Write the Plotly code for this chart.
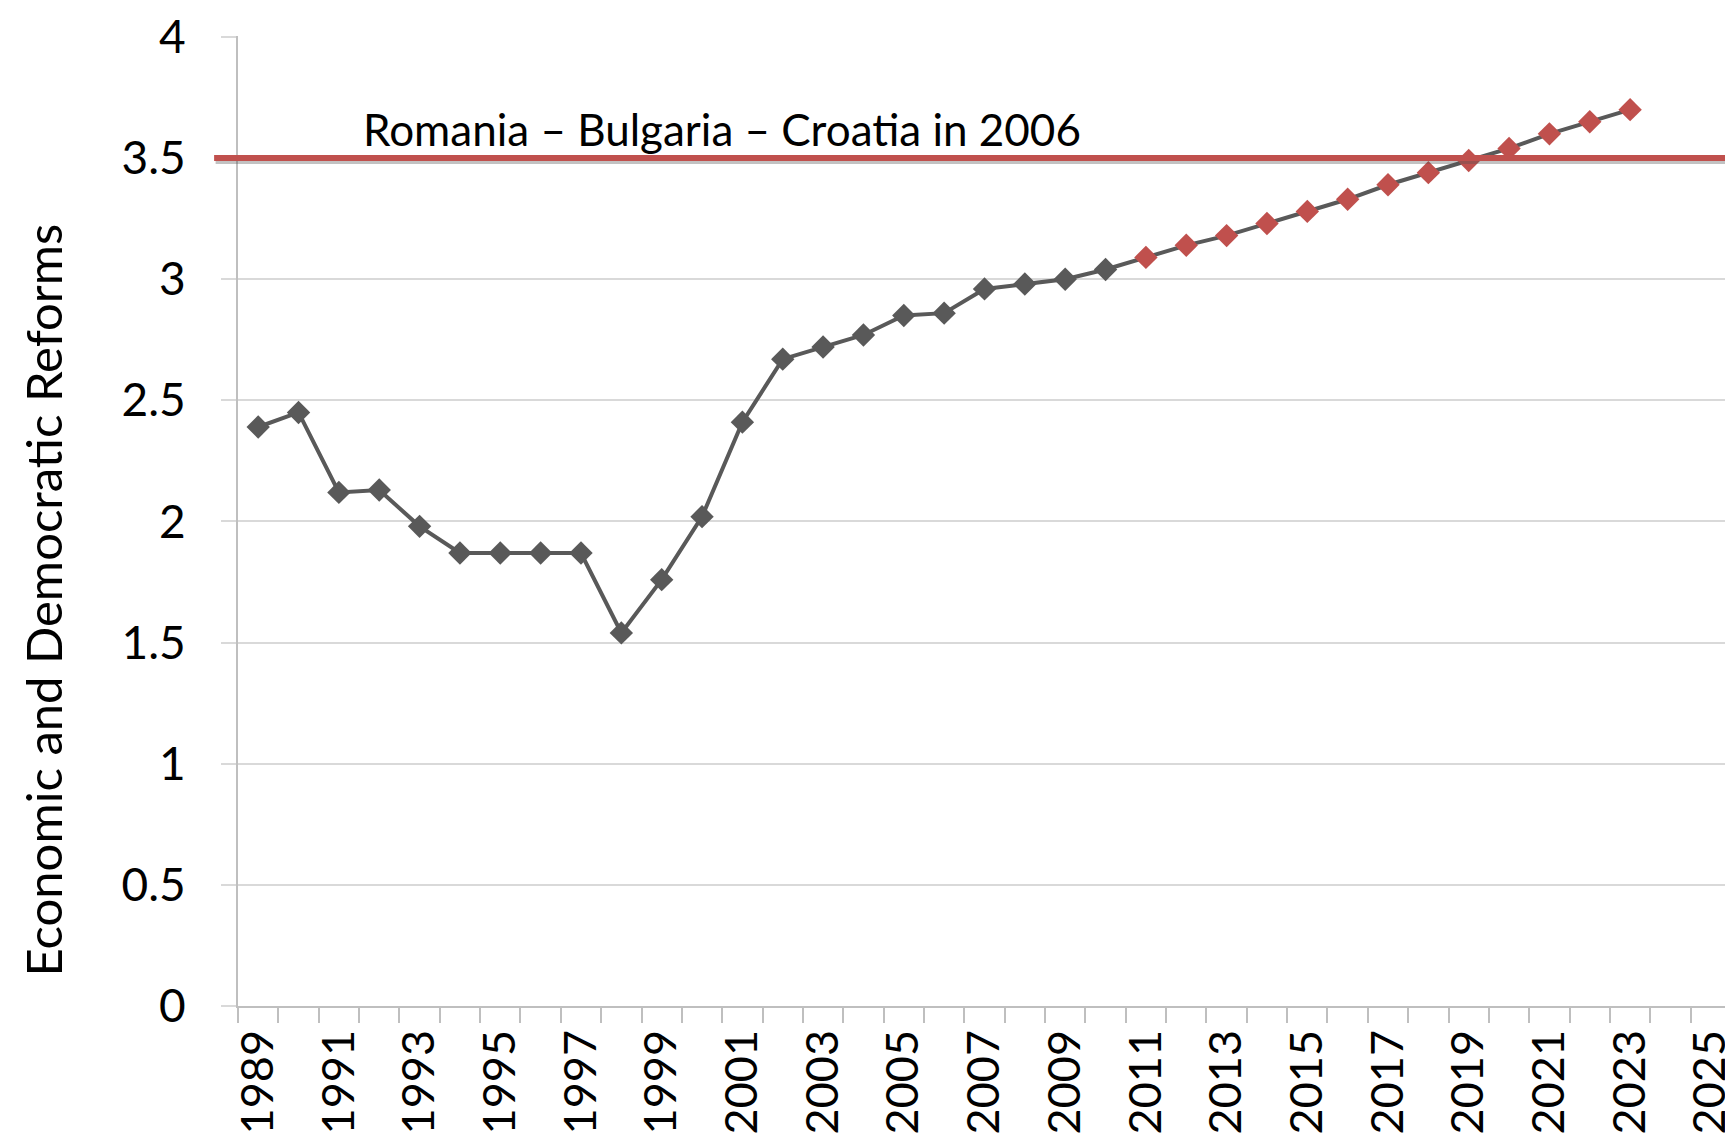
import plotly.graph_objects as go

years = list(range(1989, 2024))
values = [2.39, 2.45, 2.12, 2.13, 1.98, 1.87, 1.87, 1.87, 1.87, 1.54,
          1.76, 2.02, 2.41, 2.67, 2.72, 2.77, 2.85, 2.86, 2.96, 2.98,
          3.00, 3.04, 3.09, 3.14, 3.18, 3.23, 3.28, 3.33, 3.39, 3.44,
          3.49, 3.54, 3.60, 3.65, 3.70]
projection_start = 2011
x_tick_years = list(range(1989, 2026, 2))
x_tick_labels = [str(y) for y in x_tick_years]
y_tick_vals = [0, 0.5, 1, 1.5, 2, 2.5, 3, 3.5, 4]
y_tick_labels = ["0", "0.5", "1", "1.5", "2", "2.5", "3", "3.5", "4"]
benchmark_value = 3.5
benchmark_label = "Romania – Bulgaria – Croatia in 2006"
y_title = "Economic and Democratic Reforms"

GRAY = "#595959"
RED = "#c0504d"
GRID = "#d9d9d9"
AXIS = "#bfbfbf"
FONT = "Lato"

marker_colors = [RED if y >= projection_start else GRAY for y in years]

fig = go.Figure()
fig.add_trace(go.Scatter(
    x=years, y=values, mode="lines+markers",
    line=dict(color=GRAY, width=4),
    marker=dict(symbol="diamond", size=18, color=marker_colors,
                line=dict(width=0)),
    showlegend=False,
))

# benchmark line with soft shadow
fig.add_shape(type="line", xref="paper", yref="y", x0=-0.015, x1=1.01,
              y0=benchmark_value - 0.012, y1=benchmark_value - 0.012,
              line=dict(color="rgba(80,80,80,0.35)", width=6))
fig.add_shape(type="line", xref="paper", yref="y", x0=-0.016, x1=1.01,
              y0=benchmark_value, y1=benchmark_value,
              line=dict(color=RED, width=6))

fig.add_annotation(x=1991.55, y=3.62, xref="x", yref="y", text=benchmark_label,
                   showarrow=False, xanchor="left", yanchor="middle",
                   font=dict(family=FONT, size=44, color="#000000"))

fig.add_annotation(x=-0.152, y=0.418, xref="paper", yref="paper", text=y_title,
                   textangle=-90, showarrow=False, xanchor="left", yanchor="middle",
                   font=dict(family=FONT, size=49, color="#000000"))

fig.update_layout(
    width=1733, height=1146,
    margin=dict(l=230, r=10, t=28, b=148, autoexpand=False),
    plot_bgcolor="white", paper_bgcolor="white",
    font=dict(family=FONT, color="#000000"),
)
fig.update_xaxes(
    range=[1988.5, 2025.5], automargin=False, ticklabeloverflow="allow",
    tickmode="array", tickvals=x_tick_years, ticktext=x_tick_labels,
    tickangle=-90, ticks="", tickfont=dict(size=45, family=FONT),
    ticklabelstandoff=4,
    showgrid=False, zeroline=False,
    showline=True, linecolor=AXIS, linewidth=2,
    minor=dict(tickmode="linear", tick0=1988.5, dtick=1, ticks="outside",
               ticklen=15, tickcolor=AXIS, tickwidth=2, showgrid=False),
)
fig.update_yaxes(
    range=[0, 4.004], automargin=False, ticklabeloverflow="allow",
    tickmode="array", tickvals=y_tick_vals, ticktext=y_tick_labels,
    ticks="outside", ticklen=15, tickcolor=GRID, tickwidth=2,
    ticklabelstandoff=26,
    showgrid=True, gridcolor=GRID, gridwidth=2,
    zeroline=False, showline=True, linecolor=AXIS, linewidth=2,
    tickfont=dict(size=46, family=FONT),
)

fig.write_html("out.html")
